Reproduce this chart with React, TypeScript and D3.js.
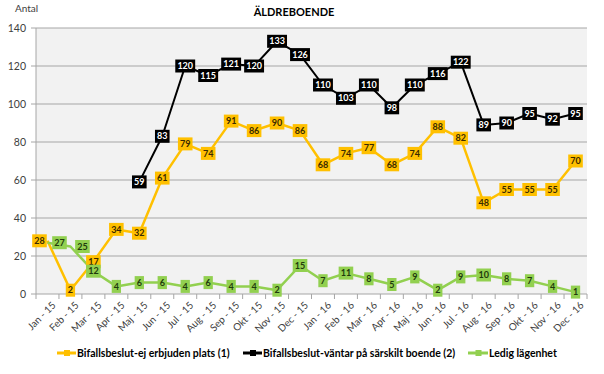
import React from "react";
import * as d3 from "d3";

const months = [
  "Jan - 15", "Feb - 15", "Mar - 15", "Apr - 15", "Maj - 15", "Jun - 15",
  "Jul - 15", "Aug - 15", "Sep - 15", "Okt - 15", "Nov - 15", "Dec - 15",
  "Jan - 16", "Feb - 16", "Mar - 16", "Apr - 16", "Maj - 16", "Jun - 16",
  "Jul - 16", "Aug - 16", "Sep - 16", "Okt - 16", "Nov - 16", "Dec - 16",
];

const ejErbjuden = [28, 2, 17, 34, 32, 61, 79, 74, 91, 86, 90, 86, 68, 74, 77, 68, 74, 88, 82, 48, 55, 55, 55, 70];
const vantar: (number | null)[] = [null, null, null, null, 59, 83, 120, 115, 121, 120, 133, 126, 110, 103, 110, 98, 110, 116, 122, 89, 90, 95, 92, 95];
const ledig = [27, 25, 12, 4, 6, 6, 4, 6, 4, 4, 2, 15, 7, 11, 8, 5, 9, 2, 9, 10, 8, 7, 4, 1];

const yTicks = [0, 20, 40, 60, 80, 100, 120, 140];

const seriesNames = [
  "Bifallsbeslut-ej erbjuden plats (1)",
  "Bifallsbeslut-väntar på särskilt boende (2)",
  "Ledig lägenhet",
];

const W = 604, H = 374;
const plot = { left: 36, right: 587, top: 28, bottom: 294 };
const FONT = "Lato, 'Open Sans', sans-serif";

type Series = { name: string; values: (number | null)[]; color: string; text: string; width: number; nudge: Record<number, number> };

const series: Series[] = [
  { name: seriesNames[0], values: ejErbjuden, color: "#FFC000", text: "#3a2a00", width: 2.5, nudge: { 0: -8 } },
  { name: seriesNames[1], values: vantar, color: "#000000", text: "#ffffff", width: 2, nudge: {} },
  { name: seriesNames[2], values: ledig, color: "#92D050", text: "#1f3a0c", width: 2.5, nudge: { 0: 12, 1: 12 } },
];

export default function App() {
  const x = d3.scaleBand<string>().domain(months).range([plot.left, plot.right]);
  const y = d3.scaleLinear().domain([0, 140]).range([plot.bottom, plot.top]);
  const cx = (m: string) => (x(m) as number) + x.bandwidth() / 2;

  const legendItems = [
    { s: series[0], x0: 57, tx: 77 },
    { s: series[1], x0: 243, tx: 263 },
    { s: series[2], x0: 468, tx: 489 },
  ];

  return (
    <div style={{ position: "fixed", left: 0, top: 0 }}>
      <svg width={W} height={H} style={{ display: "block", background: "#fff" }}>
        <rect x={plot.left} y={plot.top} width={plot.right - plot.left} height={plot.bottom - plot.top} fill="#f2f2f2" />
        {yTicks.map((t) => (
          <g key={t}>
            <line x1={plot.left - 5} x2={plot.right} y1={y(t)} y2={y(t)} stroke="#a6a6a6" strokeWidth={1} />
            <text x={26} y={y(t)} dy="0.35em" textAnchor="end" fontFamily={FONT} fontSize={10.5} fill="#404040">{t}</text>
          </g>
        ))}
        <line x1={plot.left} x2={plot.left} y1={plot.top} y2={plot.bottom} stroke="#a6a6a6" />
        {months.map((m, i) => (
          <line key={"tk" + i} x1={x(m) as number} x2={x(m) as number} y1={plot.bottom} y2={plot.bottom + 5} stroke="#a6a6a6" />
        ))}
        <line x1={plot.right} x2={plot.right} y1={plot.bottom} y2={plot.bottom + 5} stroke="#a6a6a6" />
        {months.map((m) => (
          <text key={m} transform={`translate(${cx(m) + 4},${plot.bottom + 7}) rotate(-45)`} textAnchor="end" dy="0.7em"
            fontFamily={FONT} fontSize={10} fill="#404040">{m}</text>
        ))}
        <text x={15} y={12} fontFamily={FONT} fontSize={10} fill="#404040">Antal</text>
        <text x={294} y={16} textAnchor="middle" fontFamily={FONT} fontSize={11} fontWeight="bold" fill="#000">ÄLDREBOENDE</text>

        {series.map((s) => {
          const line = d3.line<number | null>()
            .defined((v) => v !== null)
            .x((_, i) => cx(months[i]))
            .y((v) => y(v as number));
          return <path key={s.name} d={line(s.values) || ""} fill="none" stroke={s.color} strokeWidth={s.width} strokeLinejoin="round" />;
        })}
        {series.map((s) =>
          s.values.map((v, i) => {
            if (v === null) return null;
            const label = String(v);
            const w = label.length * 5.3 + 4;
            const h = 13;
            const px = cx(months[i]) + (s.nudge[i] || 0);
            const py = y(v);
            return (
              <g key={s.name + i}>
                <rect x={px - w / 2} y={py - h / 2} width={w} height={h} fill={s.color} />
                <text x={px} y={py} dy="0.35em" textAnchor="middle" fontFamily={FONT} fontSize={9} fontWeight="bold" fill={s.text}>{label}</text>
              </g>
            );
          })
        )}

        {legendItems.map(({ s, x0, tx }) => (
          <g key={"lg" + s.name}>
            <line x1={x0} x2={tx - 1} y1={353} y2={353} stroke={s.color} strokeWidth={3} />
            <rect x={(x0 + tx) / 2 - 3} y={350} width={6} height={6} fill={s.color} />
            <text x={tx} y={353} dy="0.35em" fontFamily={FONT} fontSize={10.5} fontWeight="bold" fill="#000">{s.name}</text>
          </g>
        ))}
      </svg>
    </div>
  );
}
